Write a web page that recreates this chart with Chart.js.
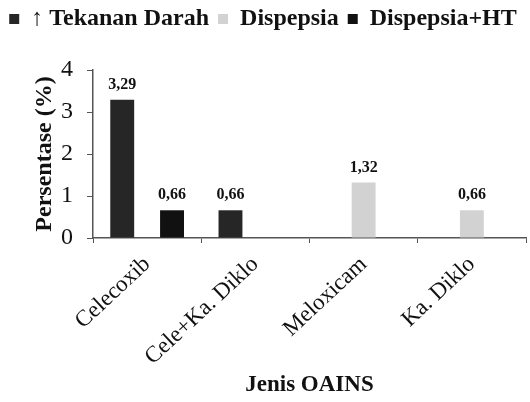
<!DOCTYPE html>
<html lang="id">
<head>
  <meta charset="UTF-8"/>
  <title>Persentase efek samping OAINS</title>
  <script src="https://cdn.jsdelivr.net/npm/chart.js"></script>
  <style>
    html, body { margin: 0; padding: 0; background: #fff; }
    #wrap { width: 530px; height: 402px; position: relative; }
  </style>
</head>
<body>
  <div id="wrap"><canvas id="chart"></canvas></div>

  <script>
    // data
    const kategori = ["Celecoxib", "Cele+Ka. Diklo", "Meloxicam", "Ka. Diklo"];
    const tekananDarah = [3.29, 0.66, null, null];
    const dispepsia    = [null, null, 1.32, 0.66];
    const dispepsiaHT  = [0.66, null, null, null];
    const yTicks = [0, 1, 2, 3, 4];

    const serif = "'Liberation Serif', 'DejaVu Serif', serif";
    Chart.defaults.font.family = serif;
    Chart.defaults.color = "#111";

    // label nilai di atas batang (koma desimal)
    const valueLabels = {
      id: "valueLabels",
      afterDatasetsDraw(chart) {
        const ctx = chart.ctx;
        ctx.save();
        ctx.font = "bold 16px " + serif;
        ctx.fillStyle = "#111";
        ctx.textAlign = "center";
        ctx.textBaseline = "bottom";
        chart.data.datasets.forEach((ds, i) => {
          const meta = chart.getDatasetMeta(i);
          meta.data.forEach((bar, j) => {
            const v = ds.data[j];
            if (v == null) return;
            ctx.fillText(v.toFixed(2).replace(".", ","), bar.x, bar.y - 7);
          });
        });
        ctx.restore();
      }
    };

    // tinggi legenda tetap supaya area grafik mulai di y=70
    const legendHeight = {
      id: "legendHeight",
      beforeInit(chart) {
        const fit = chart.legend.fit;
        chart.legend.fit = function () {
          fit.bind(chart.legend)();
          this.height = 72;
        };
      }
    };

    const ctx = document.getElementById("chart").getContext("2d");
    new Chart(ctx, {
      type: "bar",
      data: {
        labels: kategori,
        datasets: [
          { label: "\u2191 Tekanan Darah", data: tekananDarah, backgroundColor: "#262626" },
          { label: "Dispepsia", data: dispepsia, backgroundColor: "#d2d2d2" },
          { label: "Dispepsia+HT", data: dispepsiaHT, backgroundColor: "#111111" }
        ]
      },
      options: {
        responsive: true,
        maintainAspectRatio: false,
        animation: false,
        categoryPercentage: 0.69,
        barPercentage: 0.96,
        layout: { padding: { top: -2, right: 4, left: 0, bottom: 3 } },
        plugins: {
          tooltip: { enabled: false },
          legend: {
            position: "top",
            labels: {
              color: "#111",
              font: { family: serif, size: 24, weight: "bold" },
              boxWidth: 10,
              boxHeight: 10,
              padding: 9
            }
          }
        },
        scales: {
          x: {
            afterFit: s => { s.height = 161; },
            grid: { display: true, drawOnChartArea: false, tickLength: 5, color: "#555" },
            border: { color: "#555", width: 1.5 },
            ticks: {
              color: "#111",
              font: { family: serif, size: 23 },
              minRotation: 43,
              maxRotation: 43,
              padding: 8
            },
            title: {
              display: true,
              text: "Jenis OAINS",
              color: "#111",
              font: { family: serif, size: 23, weight: "bold" },
              padding: { top: 6, bottom: 0 }
            }
          },
          y: {
            min: 0,
            max: 4,
            afterBuildTicks: s => { s.ticks = yTicks.map(v => ({ value: v })); },
            afterFit: s => { s.width = 93; },
            grid: { display: true, drawOnChartArea: false, tickLength: 6, color: "#555" },
            border: { color: "#555", width: 1.5 },
            ticks: {
              color: "#111",
              font: { family: serif, size: 24 },
              padding: 14
            },
            title: {
              display: true,
              text: "Persentase (%)",
              color: "#111",
              font: { family: serif, size: 24, weight: "bold" },
              padding: { top: 30, bottom: 0 }
            }
          }
        }
      },
      plugins: [valueLabels, legendHeight]
    });
  </script>
</body>
</html>
